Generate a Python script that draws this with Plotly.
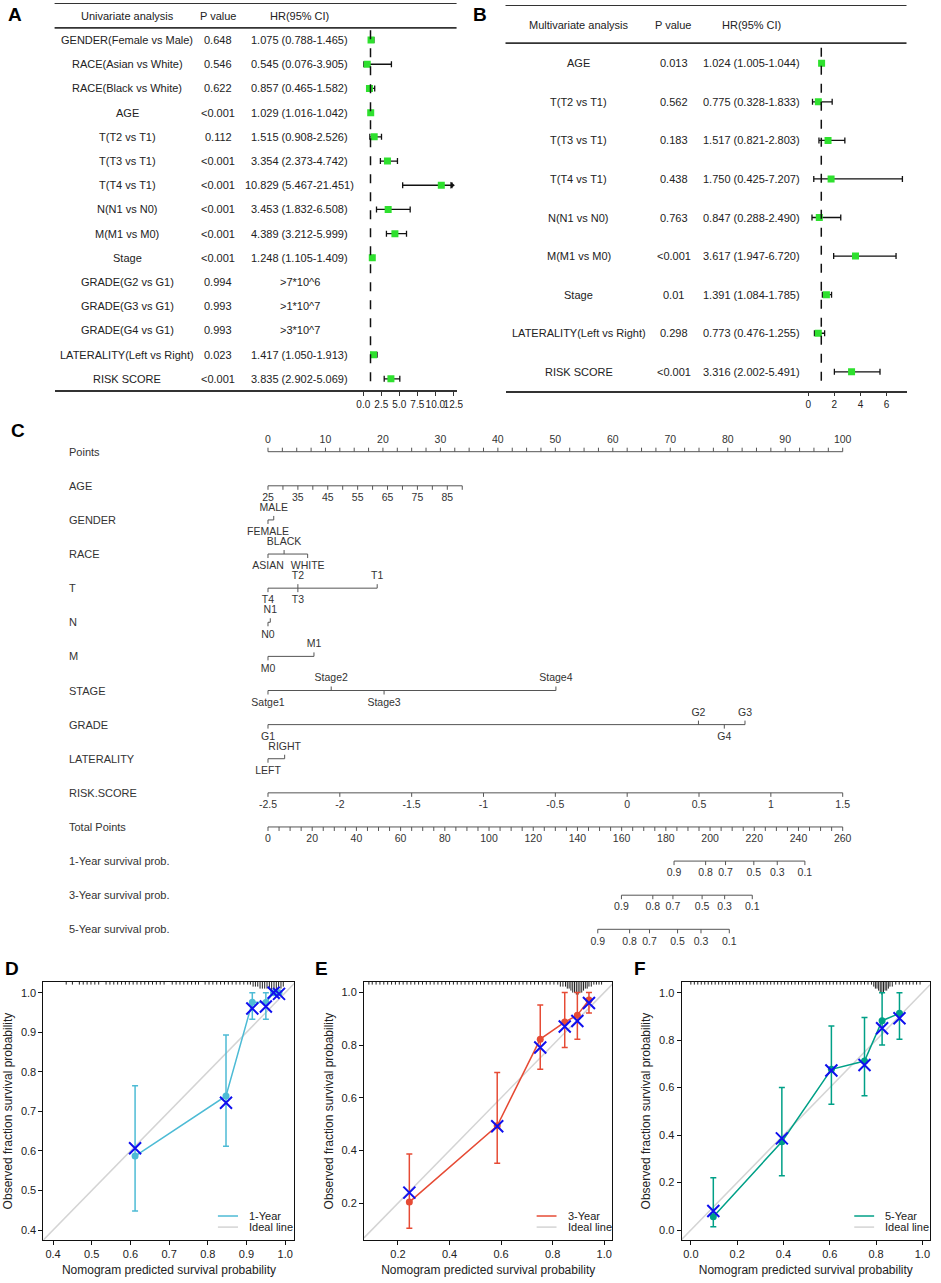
import plotly.graph_objects as go

W, H = 941, 1283
FONT = "Liberation Sans, Arial, sans-serif"
GREEN = "#2ee02e"

# ---------------- A: univariate analysis ----------------
uni_vars = ["GENDER(Female vs Male)", "RACE(Asian vs White)", "RACE(Black vs White)", "AGE",
            "T(T2 vs T1)", "T(T3 vs T1)", "T(T4 vs T1)", "N(N1 vs N0)", "M(M1 vs M0)", "Stage",
            "GRADE(G2 vs G1)", "GRADE(G3 vs G1)", "GRADE(G4 vs G1)", "LATERALITY(Left vs Right)",
            "RISK SCORE"]
uni_p = ["0.648", "0.546", "0.622", "<0.001", "0.112", "<0.001", "<0.001", "<0.001", "<0.001",
         "<0.001", "0.994", "0.993", "0.993", "0.023", "<0.001"]
uni_hr = [1.075, 0.545, 0.857, 1.029, 1.515, 3.354, 10.829, 3.453, 4.389, 1.248,
          None, None, None, 1.417, 3.835]
uni_lo = [0.788, 0.076, 0.465, 1.016, 0.908, 2.373, 5.467, 1.832, 3.212, 1.105,
          None, None, None, 1.050, 2.902]
uni_hi = [1.465, 3.905, 1.582, 1.042, 2.526, 4.742, 21.451, 6.508, 5.999, 1.409,
          None, None, None, 1.913, 5.069]
uni_big = {10: ">7*10^6", 11: ">1*10^7", 12: ">3*10^7"}
uni_ticks = [0, 2.5, 5, 7.5, 10, 12.5]
uni_ticktext = ["0.0", "2.5", "5.0", "7.5", "10.0", "12.5"]

# ---------------- B: multivariate analysis ----------------
multi_vars = ["AGE", "T(T2 vs T1)", "T(T3 vs T1)", "T(T4 vs T1)", "N(N1 vs N0)", "M(M1 vs M0)",
              "Stage", "LATERALITY(Left vs Right)", "RISK SCORE"]
multi_p = ["0.013", "0.562", "0.183", "0.438", "0.763", "<0.001", "0.01", "0.298", "<0.001"]
multi_hr = [1.024, 0.775, 1.517, 1.750, 0.847, 3.617, 1.391, 0.773, 3.316]
multi_lo = [1.005, 0.328, 0.821, 0.425, 0.288, 1.947, 1.084, 0.476, 2.002]
multi_hi = [1.044, 1.833, 2.803, 7.207, 2.490, 6.720, 1.785, 1.255, 5.491]
multi_ticks = [0, 2, 4, 6]

# ---------------- C: nomogram ----------------
nomo_rows = ["Points", "AGE", "GENDER", "RACE", "T", "N", "M", "STAGE", "GRADE", "LATERALITY",
             "RISK.SCORE", "Total Points", "1-Year survival prob.", "3-Year survival prob.",
             "5-Year survival prob."]
points_labels = [0, 10, 20, 30, 40, 50, 60, 70, 80, 90, 100]
age_labels = [25, 35, 45, 55, 65, 75, 85]
age_span = (25, 90)          # years
age_pts_span = (0, 33.8)     # points
gender_lv, gender_pt, gender_up = ["MALE", "FEMALE"], [1.0, 0.0], [True, False]
race_lv, race_pt, race_up = ["BLACK", "ASIAN", "WHITE"], [2.8, 0.0, 6.9], [True, False, False]
t_lv, t_pt, t_up = ["T2", "T1", "T4", "T3"], [5.2, 19.0, 0.0, 5.2], [True, True, False, False]
n_lv, n_pt, n_up = ["N1", "N0"], [0.4, 0.0], [True, False]
m_lv, m_pt, m_up = ["M1", "M0"], [8.0, 0.0], [True, False]
stage_lv = ["Stage2", "Stage4", "Satge1", "Stage3"]
stage_pt, stage_up = [11.0, 50.1, 0.0, 20.2], [True, True, False, False]
grade_lv = ["G2", "G3", "G1", "G4"]
grade_pt, grade_up = [74.9, 83.0, 0.0, 79.4], [True, True, False, False]
lat_lv, lat_pt, lat_up = ["RIGHT", "LEFT"], [2.9, 0.0], [True, False]
risk_labels = [-2.5, -2, -1.5, -1, -0.5, 0, 0.5, 1, 1.5]
total_labels = [0, 20, 40, 60, 80, 100, 120, 140, 160, 180, 200, 220, 240, 260]
surv_probs = ["0.9", "0.8", "0.7", "0.5", "0.3", "0.1"]
surv1_tp = [183.7, 198.0, 207.0, 219.8, 230.4, 242.9]
surv3_tp = [159.9, 174.1, 183.2, 196.4, 206.6, 219.1]
surv5_tp = [149.2, 163.6, 172.6, 185.3, 195.9, 208.7]

# ---------------- D/E/F: calibration ----------------
cal1_pred = [0.612, 0.847, 0.915, 0.950, 0.970, 0.984]
cal1_obs = [0.587, 0.739, 0.976, 0.975, 1.0, 1.0]
cal1_lo = [0.448, 0.612, 0.933, 0.933, 1.0, 1.0]
cal1_hi = [0.765, 0.893, 1.0, 1.0, 1.0, 1.0]
cal1_bc = [0.607, 0.722, 0.960, 0.965, 1.0, 0.997]
rug1_x = [0.434, 0.45, 0.468, 0.478, 0.488, 0.498, 0.508, 0.518, 0.537, 0.547, 0.557, 0.567,
          0.577, 0.587, 0.597, 0.607, 0.617, 0.627, 0.637, 0.647, 0.657, 0.667, 0.677, 0.687,
          0.708, 0.718, 0.728, 0.738, 0.748, 0.758, 0.768, 0.776, 0.793, 0.803, 0.813, 0.823,
          0.833, 0.843, 0.853, 0.863, 0.873, 0.883, 0.893, 0.903, 0.91, 0.917, 0.923, 0.929,
          0.935, 0.941, 0.947, 0.953, 0.959, 0.965, 0.971, 0.977, 0.983, 0.989, 0.995]
rug1_n = [1] * 45 + [2, 2, 2, 3, 3, 3, 3, 3, 4, 4, 4, 3, 3, 2]

cal3_pred = [0.244, 0.585, 0.752, 0.847, 0.896, 0.941]
cal3_obs = [0.204, 0.494, 0.823, 0.888, 0.914, 0.972]
cal3_lo = [0.105, 0.352, 0.709, 0.791, 0.823, 0.922]
cal3_hi = [0.387, 0.696, 0.953, 1.0, 1.0, 1.0]
cal3_bc = [0.240, 0.492, 0.791, 0.871, 0.892, 0.960]
rug3_x = [0.087, 0.1, 0.115, 0.13, 0.145, 0.16, 0.175, 0.19, 0.205, 0.22, 0.235, 0.25, 0.265,
          0.28, 0.295, 0.31, 0.325, 0.34, 0.355, 0.37, 0.385, 0.4, 0.415, 0.43, 0.445, 0.46,
          0.475, 0.49, 0.505, 0.52, 0.535, 0.55, 0.565, 0.58, 0.595, 0.61, 0.625, 0.64, 0.655,
          0.67, 0.685, 0.7, 0.715, 0.73, 0.745, 0.76, 0.775, 0.79, 0.805, 0.82, 0.83, 0.84,
          0.85, 0.857, 0.864, 0.871, 0.878, 0.885, 0.892, 0.899, 0.906, 0.913, 0.92, 0.927,
          0.934, 0.941, 0.95, 0.96, 0.97, 0.98, 0.99]
rug3_n = [1] * 49 + [1, 2, 2, 2] + [3, 3, 4, 5, 5, 6, 6, 5, 5, 4, 3, 3, 2] + [2, 1, 1, 1, 1]

cal5_pred = [0.097, 0.393, 0.607, 0.750, 0.826, 0.901]
cal5_obs = [0.056, 0.372, 0.677, 0.712, 0.882, 0.913]
cal5_lo = [0.014, 0.229, 0.530, 0.566, 0.780, 0.804]
cal5_hi = [0.220, 0.601, 0.860, 0.895, 1.0, 1.0]
cal5_bc = [0.080, 0.386, 0.672, 0.695, 0.850, 0.892]
rug5_x = [0.0, 0.015, 0.03, 0.045, 0.06, 0.075, 0.09, 0.105, 0.12, 0.135, 0.15, 0.165, 0.18,
          0.195, 0.21, 0.225, 0.24, 0.255, 0.27, 0.285, 0.3, 0.315, 0.33, 0.345, 0.36, 0.375,
          0.39, 0.405, 0.42, 0.435, 0.45, 0.465, 0.48, 0.495, 0.51, 0.525, 0.54, 0.555, 0.57,
          0.585, 0.6, 0.615, 0.63, 0.645, 0.66, 0.675, 0.69, 0.705, 0.72, 0.735, 0.75, 0.765,
          0.78, 0.79, 0.797, 0.804, 0.811, 0.818, 0.825, 0.832, 0.839, 0.846, 0.853, 0.86,
          0.87, 0.885, 0.9, 0.915, 0.93, 0.945, 0.96, 0.975, 0.99]
rug5_n = [1] * 53 + [2, 3, 3, 4, 5, 6, 5, 4, 4, 3, 2] + [2, 1, 1, 1, 1, 1, 1, 1, 1]


def px(x):
    return x / W


def py(y):
    return 1 - y / H


fig = go.Figure()
annotations = []
shapes = []


def txt(x, yref, y, text, size=11, anchor="center", xref="paper", color="#222"):
    annotations.append(dict(x=x, xref=xref, y=y, yref=yref, text=text, showarrow=False,
                            xanchor=anchor, yanchor="middle",
                            font=dict(size=size, color=color, family=FONT)))


# ---------- forest tables (A, B) ----------
def forest(names, pvals, hr, lo, hi, big, xa, ya, cols, header, clip):
    rows = list(range(1, len(names) + 1))
    xs, ys, plus, minus, arrows = [], [], [], [], []
    for r, h, l, u in zip(rows, hr, lo, hi):
        if h is None:
            continue
        xs.append(h)
        ys.append(r)
        plus.append(min(u, clip) - h)
        minus.append(h - l)
        if u > clip:
            arrows.append(r)
    fig.add_trace(go.Scatter(
        x=xs, y=ys, mode="markers", xaxis=xa, yaxis=ya, showlegend=False, hoverinfo="skip",
        marker=dict(symbol="square", size=7, color=GREEN),
        error_x=dict(type="data", symmetric=False, array=plus, arrayminus=minus,
                     color="#111", thickness=1.3, width=3)))
    if arrows:
        fig.add_trace(go.Scatter(
            x=[clip] * len(arrows), y=arrows, mode="markers", xaxis=xa, yaxis=ya,
            showlegend=False, hoverinfo="skip",
            marker=dict(symbol="triangle-right", size=6, color="#111")))
    for txt_, c in zip(header, cols):
        txt(px(c), ya, 0, txt_)
    for r, n, p in zip(rows, names, pvals):
        txt(px(cols[0]), ya, r, n)
        txt(px(cols[1]), ya, r, p)
        i = r - 1
        if hr[i] is None:
            hr_txt = big[i]
        else:
            hr_txt = f"{hr[i]:.3f} ({lo[i]:.3f}-{hi[i]:.3f})"
        txt(px(cols[2]), ya, r, hr_txt)
    # vertical reference at HR = 1
    shapes.append(dict(type="line", xref=xa, yref=ya, x0=1, x1=1, y0=0.6,
                       y1=len(names) + 0.46, line=dict(color="#111", width=1.5, dash="dash")))


forest(uni_vars, uni_p, uni_hr, uni_lo, uni_hi, uni_big, "x", "y",
       [128, 220, 302], ["Univariate analysis", "P value", "HR(95% CI)"], 12.3)
forest(multi_vars, multi_p, multi_hr, multi_lo, multi_hi, {}, "x2", "y2",
       [583, 679, 757], ["Multivariate analysis", "P value", "HR(95% CI)"], 99)

# table rules
for xa, ya, ys in [("x", "y", [-0.53, 0.5]), ("x2", "y2", [-0.51, 0.48])]:
    for yv in ys:
        shapes.append(dict(type="line", xref=f"{xa} domain", yref=ya, x0=0, x1=1, y0=yv, y1=yv,
                           line=dict(color="#333", width=1.8)))

# ---------- nomogram (C) ----------
C_ROW_PX = 34.1
TICK = 4 / C_ROW_PX
LAB_UP = 11.7 / C_ROW_PX
LAB_DN = 12.6 / C_ROW_PX
row_of = {name: i for i, name in enumerate(nomo_rows)}
line_x, line_y = [], []
lab_x, lab_y, lab_t = [], [], []


def scale(row_name, pts, labels, ups, minor=(), minor_up=False):
    r = row_of[row_name]
    allp = list(pts) + list(minor)
    line_x.extend([min(allp), max(allp), None])
    line_y.extend([r, r, None])
    for p, up in list(zip(pts, ups)) + [(m, minor_up) for m in minor]:
        line_x.extend([p, p, None])
        line_y.extend([r, r - TICK if up else r + TICK, None])
    for p, t, up in zip(pts, labels, ups):
        lab_x.append(p)
        lab_y.append(r - LAB_UP if up else r + LAB_DN)
        lab_t.append(str(t))


def lin(v, a, b, pa, pb):
    return pa + (v - a) / (b - a) * (pb - pa)


scale("Points", points_labels, points_labels, [True] * len(points_labels),
      minor=[p + 2.5 * k for p in points_labels[:-1] for k in (1, 2, 3)], minor_up=True)
scale("AGE", [lin(a, *age_span, *age_pts_span) for a in age_labels], age_labels,
      [False] * len(age_labels),
      minor=[lin(a, *age_span, *age_pts_span) for a in range(30, 95, 10)])
scale("GENDER", gender_pt, gender_lv, gender_up)
scale("RACE", race_pt, race_lv, race_up)
scale("T", t_pt, t_lv, t_up)
scale("N", n_pt, n_lv, n_up)
scale("M", m_pt, m_lv, m_up)
scale("STAGE", stage_pt, stage_lv, stage_up)
scale("GRADE", grade_pt, grade_lv, grade_up)
scale("LATERALITY", lat_pt, lat_lv, lat_up)
scale("RISK.SCORE", [lin(v, -2.5, 1.5, 0, 100) for v in risk_labels],
      [f"{v:g}" for v in risk_labels], [False] * len(risk_labels))
scale("Total Points", [lin(v, 0, 260, 0, 100) for v in total_labels], total_labels,
      [False] * len(total_labels),
      minor=[lin(v + 5 * k, 0, 260, 0, 100) for v in total_labels[:-1] for k in (1, 2, 3)])
for name, tp in [("1-Year survival prob.", surv1_tp), ("3-Year survival prob.", surv3_tp),
                 ("5-Year survival prob.", surv5_tp)]:
    scale(name, [lin(v, 0, 260, 0, 100) for v in tp], surv_probs, [False] * len(tp))

fig.add_trace(go.Scatter(x=line_x, y=line_y, mode="lines", xaxis="x3", yaxis="y3",
                         line=dict(color="#555", width=1), showlegend=False, hoverinfo="skip"))
fig.add_trace(go.Scatter(x=lab_x, y=lab_y, text=lab_t, mode="text", xaxis="x3", yaxis="y3",
                         textposition="middle center", cliponaxis=False,
                         textfont=dict(size=10.5, color="#333", family=FONT),
                         showlegend=False, hoverinfo="skip"))
for name in nomo_rows:
    txt(px(67), "y3", row_of[name], name, size=11, anchor="left", color="#333")

# ---------- calibration (D, E, F) ----------
cal_sets = [
    ("x4", "y4", "1-Year", "#4dbbd5", cal1_pred, cal1_obs, cal1_lo, cal1_hi, cal1_bc,
     rug1_x, rug1_n, [0.375, 1.024], [0.375, 1.027], 0.1),
    ("x5", "y5", "3-Year", "#e64b35", cal3_pred, cal3_obs, cal3_lo, cal3_hi, cal3_bc,
     rug3_x, rug3_n, [0.068, 1.032], [0.06, 1.04], 0.2),
    ("x6", "y6", "5-Year", "#00a087", cal5_pred, cal5_obs, cal5_lo, cal5_hi, cal5_bc,
     rug5_x, rug5_n, [-0.04, 1.033], [-0.042, 1.045], 0.2),
]
CAL_X = [(43.7, 296.7), (366.7, 617.0), (686.7, 937.0)]
CAL_Y = (982, 1240)
IDEAL = "#d4d4d4"
RUG_PX = 2.0

layout_axes = {}
for i, (xa, ya, name, col, pred, obs, lo, hi, bc, rx, rn, xr, yr, dt) in enumerate(cal_sets):
    # rug along the top edge
    unit = (yr[1] - yr[0]) / (CAL_Y[1] - CAL_Y[0])
    rxs, rys = [], []
    for x, n in zip(rx, rn):
        rxs.extend([x, x, None])
        rys.extend([yr[1], yr[1] - RUG_PX * (n + 0.3) * unit, None])
    fig.add_trace(go.Scatter(x=rxs, y=rys, mode="lines", xaxis=xa, yaxis=ya, showlegend=False,
                             line=dict(color="#222", width=1), hoverinfo="skip"))
    fig.add_trace(go.Scatter(x=[xr[0], xr[1]], y=[xr[0], xr[1]], mode="lines", xaxis=xa, yaxis=ya,
                             showlegend=False, hoverinfo="skip", line=dict(color=IDEAL, width=1.5)))
    fig.add_trace(go.Scatter(x=pred, y=obs, mode="lines", xaxis=xa, yaxis=ya, showlegend=False,
                             line=dict(color=col, width=1.5)))
    fig.add_trace(go.Scatter(
        x=pred, y=obs, mode="markers", xaxis=xa, yaxis=ya, showlegend=False,
        marker=dict(size=7, color=col),
        error_y=dict(type="data", symmetric=False,
                     array=[h - o for h, o in zip(hi, obs)],
                     arrayminus=[o - l for o, l in zip(obs, lo)],
                     color=col, thickness=1.5, width=3)))
    fig.add_trace(go.Scatter(x=pred, y=bc, mode="markers", xaxis=xa, yaxis=ya, showlegend=False,
                             marker=dict(symbol="x-thin", size=12, line=dict(color="#1010ee", width=2))))

    # legend in the lower right corner
    for yk, label, lc in [(0.093, name, col), (0.05, "Ideal line", IDEAL)]:
        shapes.append(dict(type="line", xref=f"{xa} domain", yref=f"{ya} domain",
                           x0=0.695, x1=0.775, y0=yk, y1=yk, line=dict(color=lc, width=1.5)))
        txt(0.812, f"{ya} domain", yk, label, size=11, anchor="left", xref=f"{xa} domain")

    n = xa[1:]
    tickvals = [round(dt * k, 1) for k in range(0, 11) if xr[0] <= dt * k <= xr[1] + 1e-9]
    ytickvals = [round(dt * k, 1) for k in range(0, 11) if yr[0] <= dt * k <= yr[1] + 1e-9]
    common = dict(showline=True, mirror=True, linecolor="#111", linewidth=1, ticks="outside",
                  ticklen=4, tickcolor="#111", showgrid=False, zeroline=False,
                  tickfont=dict(size=11, color="#222", family=FONT))
    layout_axes[f"xaxis{n}"] = dict(
        domain=[px(CAL_X[i][0]), px(CAL_X[i][1])], range=xr, anchor=ya, tickvals=tickvals,
        ticktext=[f"{v:.1f}" for v in tickvals],
        title=dict(text="Nomogram predicted survival probability", standoff=6,
                   font=dict(size=12, color="#222", family=FONT)), **common)
    layout_axes[f"yaxis{n}"] = dict(
        domain=[py(CAL_Y[1]), py(CAL_Y[0])], range=yr, anchor=xa, tickvals=ytickvals,
        ticktext=[f"{v:.1f}" for v in ytickvals],
        title=dict(text="Observed fraction survival probability", standoff=5,
                   font=dict(size=12, color="#222", family=FONT)), **common)

# panel letters
for letter, x, y in [("A", 15, 15), ("B", 484, 15), ("C", 18, 430),
                     ("D", 12, 968), ("E", 324, 968), ("F", 645, 968)]:
    annotations.append(dict(x=px(x), y=py(y), xref="paper", yref="paper", text=f"<b>{letter}</b>",
                            showarrow=False, xanchor="center", yanchor="middle",
                            font=dict(size=19, color="black", family=FONT)))

C_PAD = 2
C_PX = (849 - 270) / 100
fig.update_layout(
    width=W, height=H, margin=dict(l=0, r=0, t=0, b=0),
    paper_bgcolor="white", plot_bgcolor="white",
    font=dict(family=FONT, color="#222"),
    xaxis=dict(domain=[px(55), px(460)], range=[-42.86, 12.95], anchor="y",
               tickvals=uni_ticks, ticktext=uni_ticktext, tickangle=0, showline=True,
               linecolor="#333", linewidth=1.5, ticks="outside", ticklen=4, tickcolor="#333",
               showgrid=False, zeroline=False, tickfont=dict(size=10, color="#222")),
    yaxis=dict(domain=[py(390), py(3)], range=[15.46, -0.53], visible=False),
    xaxis2=dict(domain=[px(509.3), px(913.3)], range=[-23.16, 7.52], anchor="y2",
                tickvals=multi_ticks, tickangle=0, showline=True, linecolor="#333", linewidth=1.5,
                ticks="outside", ticklen=4, tickcolor="#333", showgrid=False, zeroline=False,
                tickfont=dict(size=10, color="#222")),
    yaxis2=dict(domain=[py(390.7), py(5)], range=[9.49, -0.51], visible=False),
    xaxis3=dict(domain=[px(270 - C_PAD * C_PX), px(849 + C_PAD * C_PX)],
                range=[-C_PAD, 100 + C_PAD], visible=False, anchor="y3"),
    yaxis3=dict(domain=[py(945), py(430)], range=[14.46, -0.636], visible=False, anchor="x3"),
    annotations=annotations, shapes=shapes,
    **layout_axes,
)

# the page's default body margin would push the figure off the window
fig.write_html("out.html", config={"displayModeBar": False},
               post_script="document.body.style.margin = '0';")
